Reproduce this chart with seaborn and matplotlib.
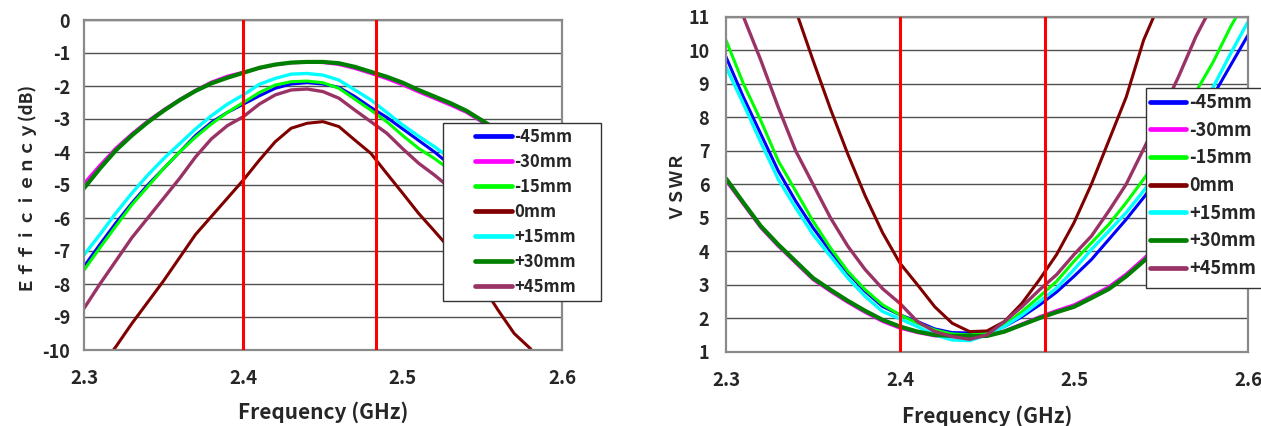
import numpy as np
import pandas as pd
import matplotlib
matplotlib.use("Agg")
import matplotlib.pyplot as plt
from matplotlib.lines import Line2D
from matplotlib.patches import Rectangle
import seaborn as sns

# ---------------- data ----------------
freq = [2.30, 2.31, 2.32, 2.33, 2.34, 2.35, 2.36, 2.37, 2.38, 2.39, 2.40,
        2.41, 2.42, 2.43, 2.44, 2.45, 2.46, 2.47, 2.48, 2.49, 2.50,
        2.51, 2.52, 2.53, 2.54, 2.55, 2.56, 2.57, 2.58, 2.59, 2.60]

series_labels = ["-45mm", "-30mm", "-15mm", "0mm", "+15mm", "+30mm", "+45mm"]

# Efficiency (dB)
eff_m45 = [-7.47, -6.8, -6.15, -5.55, -5.0, -4.5, -4.0, -3.5, -3.1, -2.8, -2.55,
           -2.3, -2.07, -1.94, -1.9, -1.94, -2.04, -2.32, -2.65, -2.95, -3.3,
           -3.65, -4.0, -4.4, -4.8, -5.2, -5.65, -6.1, -6.6, -7.1, -7.6]
eff_m30 = [-4.95, -4.4, -3.88, -3.45, -3.06, -2.72, -2.41, -2.13, -1.88, -1.7, -1.58,
           -1.46, -1.36, -1.3, -1.28, -1.29, -1.35, -1.47, -1.62, -1.78, -1.97,
           -2.18, -2.38, -2.58, -2.8, -3.1, -3.42, -3.78, -4.18, -4.6, -5.05]
eff_m15 = [-7.58, -6.9, -6.25, -5.6, -5.05, -4.5, -4.0, -3.55, -3.15, -2.8, -2.5,
           -2.2, -1.97, -1.87, -1.85, -1.9, -2.07, -2.4, -2.73, -3.08, -3.5,
           -3.89, -4.2, -4.55, -4.95, -5.4, -5.85, -6.3, -6.8, -7.3, -7.8]
eff_0 = [-11.2, -10.55, -9.9, -9.2, -8.55, -7.9, -7.2, -6.5, -5.95, -5.4, -4.85,
         -4.25, -3.69, -3.28, -3.13, -3.08, -3.23, -3.64, -4.04, -4.65, -5.25,
         -5.86, -6.4, -6.95, -7.5, -8.05, -8.8, -9.5, -9.95, -10.6, -11.2]
eff_p15 = [-7.12, -6.5, -5.85, -5.25, -4.7, -4.2, -3.75, -3.3, -2.9, -2.55, -2.27,
           -1.95, -1.77, -1.64, -1.62, -1.67, -1.82, -2.12, -2.42, -2.8, -3.18,
           -3.52, -3.84, -4.2, -4.6, -5.0, -5.45, -5.9, -6.4, -6.9, -7.4]
eff_p30 = [-5.1, -4.5, -3.95, -3.5, -3.1, -2.75, -2.43, -2.15, -1.92, -1.75, -1.6,
           -1.45, -1.35, -1.29, -1.27, -1.27, -1.31, -1.42, -1.57, -1.72, -1.9,
           -2.12, -2.32, -2.52, -2.75, -3.05, -3.35, -3.7, -4.1, -4.5, -4.9]
eff_p45 = [-8.74, -8.0, -7.3, -6.6, -6.0, -5.4, -4.8, -4.15, -3.6, -3.2, -2.93,
           -2.55, -2.27, -2.12, -2.09, -2.17, -2.37, -2.73, -3.08, -3.43, -3.9,
           -4.34, -4.7, -5.1, -5.5, -5.95, -6.4, -6.9, -7.4, -7.9, -8.4]

# VSWR
vswr_m45 = [9.8, 8.6, 7.5, 6.4, 5.5, 4.7, 4.0, 3.35, 2.8, 2.35, 2.1,
            1.9, 1.68, 1.57, 1.56, 1.6, 1.75, 2.04, 2.39, 2.78, 3.25,
            3.75, 4.35, 4.95, 5.6, 6.3, 7.05, 7.85, 8.65, 9.55, 10.45]
vswr_m30 = [6.1, 5.4, 4.7, 4.15, 3.65, 3.15, 2.8, 2.47, 2.17, 1.9, 1.7,
            1.57, 1.47, 1.45, 1.46, 1.48, 1.62, 1.83, 2.04, 2.23, 2.4,
            2.66, 2.94, 3.32, 3.78, 4.28, 4.83, 5.43, 6.08, 6.78, 7.5]
vswr_m15 = [10.3, 9.0, 7.9, 6.7, 5.8, 4.9, 4.1, 3.4, 2.85, 2.4, 2.1,
            1.85, 1.65, 1.53, 1.5, 1.55, 1.8, 2.19, 2.64, 3.1, 3.7,
            4.25, 4.8, 5.45, 6.15, 6.9, 7.8, 8.75, 9.65, 10.7, 11.6]
vswr_0 = [17.5, 15.8, 14.2, 12.6, 11.2, 9.7, 8.25, 6.9, 5.65, 4.55, 3.64,
          3.0, 2.34, 1.85, 1.6, 1.62, 1.9, 2.44, 3.14, 3.9, 4.85,
          6.0, 7.3, 8.6, 10.3, 11.5, 12.8, 14.0, 15.2, 16.4, 17.6]
vswr_p15 = [9.5, 8.4, 7.25, 6.15, 5.3, 4.5, 3.85, 3.2, 2.65, 2.2, 1.98,
            1.75, 1.5, 1.35, 1.33, 1.5, 1.75, 2.09, 2.49, 2.9, 3.45,
            4.05, 4.6, 5.15, 5.8, 6.5, 7.25, 8.0, 8.9, 9.9, 10.85]
vswr_p30 = [6.17, 5.45, 4.75, 4.2, 3.7, 3.2, 2.85, 2.52, 2.22, 1.95, 1.75,
            1.6, 1.5, 1.47, 1.47, 1.47, 1.6, 1.8, 2.0, 2.18, 2.34,
            2.6, 2.87, 3.25, 3.7, 4.2, 4.75, 5.35, 6.0, 6.7, 7.4]
vswr_p45 = [12.5, 11.0, 9.7, 8.3, 7.0, 6.0, 5.0, 4.15, 3.45, 2.88, 2.44,
            1.9, 1.6, 1.45, 1.37, 1.5, 1.9, 2.34, 2.84, 3.3, 3.9,
            4.45, 5.2, 6.0, 7.05, 8.1, 9.2, 10.4, 11.4, 12.4, 13.4]

band_edges = [2.4, 2.4835]
x_ticks = [2.3, 2.4, 2.5, 2.6]
eff_ticks = [0, -1, -2, -3, -4, -5, -6, -7, -8, -9, -10]
vswr_ticks = [1, 2, 3, 4, 5, 6, 7, 8, 9, 10, 11]

eff_series = [eff_m45, eff_m30, eff_m15, eff_0, eff_p15, eff_p30, eff_p45]
vswr_series = [vswr_m45, vswr_m30, vswr_m15, vswr_0, vswr_p15, vswr_p30, vswr_p45]

# ---------------- style ----------------
colors = ["#0000FF", "#FF00FF", "#00FF00", "#800000", "#00FFFF", "#008000", "#993366"]
widths = [2.2, 2.2, 2.2, 2.2, 2.4, 3.0, 2.4]

sns.set_theme(style="white")
plt.rcParams["font.family"] = ["Noto Sans CJK JP", "DejaVu Sans"]
plt.rcParams["font.weight"] = "bold"
plt.rcParams["axes.unicode_minus"] = True

fig = plt.figure(figsize=(12.61, 4.26), dpi=100)
W, H = 1261, 426
ax1 = fig.add_axes([84 / W, 1 - 350 / H, 478 / W, 330 / H])
ax2 = fig.add_axes([726 / W, 1 - 351.7 / H, 522 / W, 335 / H])


def px(x, y):
    return (x / W, 1 - y / H)


def draw(ax, series, ylim, yticks, ylabel, ylabel_x, ypad, xlab_y):
    df = pd.DataFrame({"freq": freq * len(series),
                       "val": sum(series, []),
                       "pos": sum([[lab] * len(freq) for lab in series_labels], [])})
    for lab, col, lw in zip(series_labels, colors, widths):
        sub = df[df["pos"] == lab]
        sns.lineplot(data=sub, x="freq", y="val", ax=ax, color=col, lw=lw,
                     legend=False, zorder=2, solid_joinstyle="round")
    for xe in band_edges:
        ax.axvline(xe, color="#FF0000", lw=2.2, zorder=3)
    ax.set_xlim(2.3, 2.6)
    ax.set_ylim(*ylim)
    ax.set_xticks(x_ticks)
    ax.set_xticklabels([f"{v:.1f}" for v in x_ticks], fontsize=13.5, fontweight="bold")
    ax.set_yticks(yticks)
    ax.set_yticklabels([str(v) for v in yticks], fontsize=13, fontweight="bold")
    ax.yaxis.grid(True, color="#505050", lw=1.0)
    ax.xaxis.grid(False)
    ax.set_axisbelow(True)
    for s in ax.spines.values():
        s.set_color("#8a8a8a")
        s.set_linewidth(1.6)
    ax.tick_params(axis="x", direction="in", length=6, width=1, color="#707070", pad=14)
    ax.tick_params(axis="y", length=0, pad=ypad)
    ax.set_xlabel("Frequency (GHz)", fontsize=15, fontweight="bold")
    ax.xaxis.set_label_coords(0.5, xlab_y)
    ax.set_ylabel(ylabel, fontsize=12.5, fontweight="bold")
    ax.yaxis.set_label_coords(ylabel_x, 0.5)


draw(ax1, eff_series, (-10, 0), eff_ticks, "Ｅｆｆｉｃｉｅｎｃｙ(dB)", -0.107, 10, -0.155)
draw(ax2, vswr_series, (1, 11), vswr_ticks, "ＶＳＷＲ", -0.08, 12, -0.16)


def legend_box(x0, y0, w, h, hx, hy, size, spacing, hlen):
    rect = Rectangle(px(x0, y0 + h), w / W, h / H, transform=fig.transFigure,
                     facecolor="white", edgecolor="#333333", lw=1.0, zorder=4)
    fig.add_artist(rect)
    handles = [Line2D([0], [0], color=c, lw=3.4) for c in colors]
    leg = fig.legend(handles, series_labels, loc="upper left", bbox_to_anchor=px(hx, hy),
                     bbox_transform=fig.transFigure, borderaxespad=0, borderpad=0,
                     frameon=False, prop={"size": size, "weight": "bold"},
                     handlelength=hlen, handletextpad=0.15, labelspacing=spacing)
    leg.set_zorder(5)


legend_box(443, 123, 158, 178, 475, 128, 12, 0.42, 2.2)
legend_box(1146, 88, 125, 200, 1150, 93, 13, 0.48, 2.0)

fig.savefig("out.png", dpi=100)
